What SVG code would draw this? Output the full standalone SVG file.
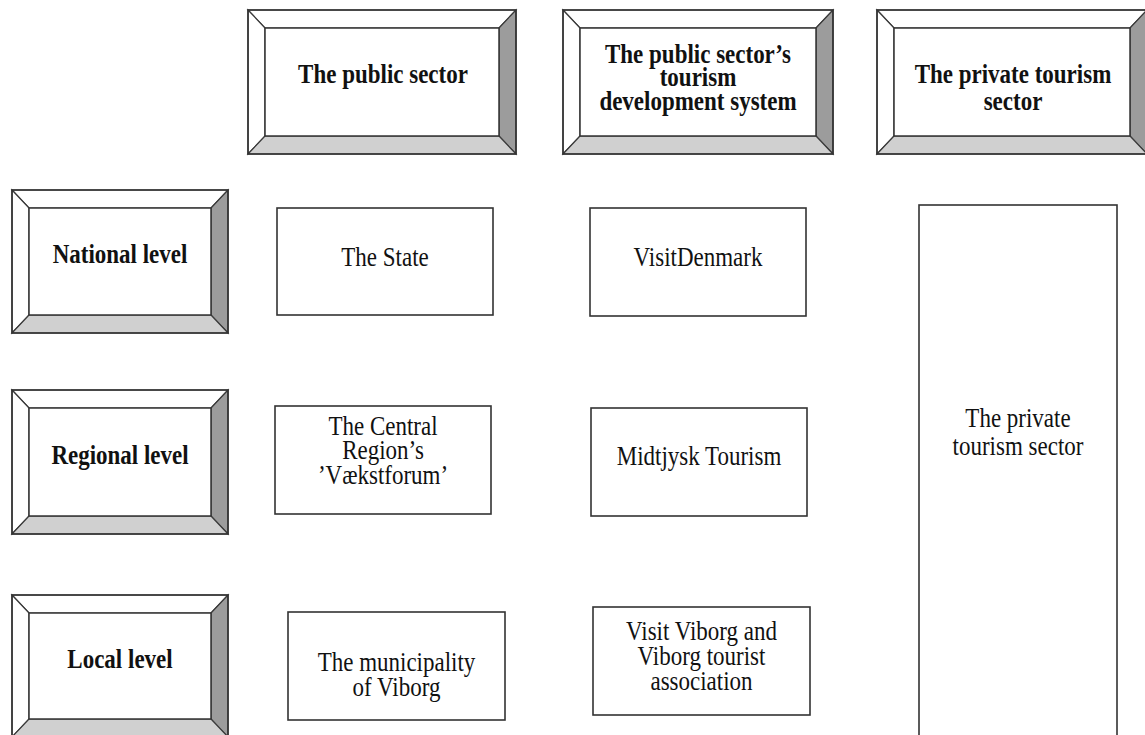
<svg xmlns="http://www.w3.org/2000/svg" width="1145" height="735" viewBox="0 0 1145 735">
<style>
.bg{fill:#ffffff}
.lt{fill:#ffffff;stroke:#3a3a3a;stroke-width:1.2}
.dk{fill:#9c9c9c;stroke:#3a3a3a;stroke-width:1.2}
.md{fill:#d0d0d0;stroke:#3a3a3a;stroke-width:1.2}
.in{fill:#ffffff;stroke:#333333;stroke-width:1.5}
.out{fill:none;stroke:#333333;stroke-width:1.6}
.box{fill:#ffffff;stroke:#333333;stroke-width:1.6}
.hb{font-family:"Liberation Serif","Times New Roman",serif;font-weight:bold;font-size:23px;fill:#111;text-anchor:middle}
.tx{font-family:"Liberation Serif","Times New Roman",serif;font-size:23px;fill:#111;text-anchor:middle}
</style>
<rect class="bg" x="0" y="0" width="1145" height="735"/>
<g id="connectors"/>

<g id="hdr-public">
<polygon class="lt" points="248,10 516,10 499,28 265,28"/>
<polygon class="lt" points="248,10 265,28 265,136 248,154"/>
<polygon class="dk" points="516,10 516,154 499,136 499,28"/>
<polygon class="md" points="248,154 265,136 499,136 516,154"/>
<rect class="in" x="265" y="28" width="234" height="108"/>
<rect class="out" x="248" y="10" width="268" height="144"/>
<text class="hb" transform="translate(383,83) scale(1,1.15)">The public sector</text>
</g>

<g id="hdr-system">
<polygon class="lt" points="563,10 833,10 816,28 580,28"/>
<polygon class="lt" points="563,10 580,28 580,136 563,154"/>
<polygon class="dk" points="833,10 833,154 816,136 816,28"/>
<polygon class="md" points="563,154 580,136 816,136 833,154"/>
<rect class="in" x="580" y="28" width="236" height="108"/>
<rect class="out" x="563" y="10" width="270" height="144"/>
<text class="hb" transform="translate(698,63) scale(1,1.15)"><tspan x="0" dy="0">The public sector’s</tspan><tspan x="0" dy="20.4">tourism</tspan><tspan x="0" dy="20.4">development system</tspan></text>
</g>

<g id="hdr-private">
<polygon class="lt" points="877,10 1147,10 1130,28 894,28"/>
<polygon class="lt" points="877,10 894,28 894,136 877,154"/>
<polygon class="dk" points="1147,10 1147,154 1130,136 1130,28"/>
<polygon class="md" points="877,154 894,136 1130,136 1147,154"/>
<rect class="in" x="894" y="28" width="236" height="108"/>
<rect class="out" x="877" y="10" width="270" height="144"/>
<text class="hb" transform="translate(1013,83) scale(1,1.15)"><tspan x="0" dy="0">The private tourism</tspan><tspan x="0" dy="23.5">sector</tspan></text>
</g>

<g id="lvl-national">
<polygon class="lt" points="12,190 228,190 211,208 29,208"/>
<polygon class="lt" points="12,190 29,208 29,315 12,333"/>
<polygon class="dk" points="228,190 228,333 211,315 211,208"/>
<polygon class="md" points="12,333 29,315 211,315 228,333"/>
<rect class="in" x="29" y="208" width="182" height="107"/>
<rect class="out" x="12" y="190" width="216" height="143"/>
<text class="hb" transform="translate(120,263) scale(1,1.15)">National level</text>
</g>

<g id="lvl-regional">
<polygon class="lt" points="12,390 228,390 211,408 29,408"/>
<polygon class="lt" points="12,390 29,408 29,516 12,534"/>
<polygon class="dk" points="228,390 228,534 211,516 211,408"/>
<polygon class="md" points="12,534 29,516 211,516 228,534"/>
<rect class="in" x="29" y="408" width="182" height="108"/>
<rect class="out" x="12" y="390" width="216" height="144"/>
<text class="hb" transform="translate(120,464) scale(1,1.15)">Regional level</text>
</g>

<g id="lvl-local">
<polygon class="lt" points="12,595 228,595 211,613 29,613"/>
<polygon class="lt" points="12,595 29,613 29,719 12,737"/>
<polygon class="dk" points="228,595 228,737 211,719 211,613"/>
<polygon class="md" points="12,737 29,719 211,719 228,737"/>
<rect class="in" x="29" y="613" width="182" height="106"/>
<rect class="out" x="12" y="595" width="216" height="142"/>
<text class="hb" transform="translate(120,668) scale(1,1.15)">Local level</text>
</g>

<g id="the-state">
<rect class="box" x="277" y="208" width="216" height="107"/>
<text class="tx" transform="translate(385,266) scale(1,1.15)">The State</text>
</g>

<g id="visitdenmark">
<rect class="box" x="590" y="208" width="216" height="108"/>
<text class="tx" transform="translate(698,266) scale(1,1.15)">VisitDenmark</text>
</g>

<g id="central-region">
<rect class="box" x="275" y="406" width="216" height="108"/>
<text class="tx" transform="translate(383,435) scale(1,1.15)"><tspan x="0" dy="0">The Central</tspan><tspan x="0" dy="21.3">Region’s</tspan><tspan x="0" dy="21.3">’Vækstforum’</tspan></text>
</g>

<g id="midtjysk">
<rect class="box" x="591" y="408" width="216" height="108"/>
<text class="tx" transform="translate(699,465) scale(1,1.15)">Midtjysk Tourism</text>
</g>

<g id="municipality">
<rect class="box" x="288" y="612" width="217" height="108"/>
<text class="tx" transform="translate(396.5,671) scale(1,1.15)"><tspan x="0" dy="0">The municipality</tspan><tspan x="0" dy="21.7">of Viborg</tspan></text>
</g>

<g id="visit-viborg">
<rect class="box" x="593" y="607" width="217" height="108"/>
<text class="tx" transform="translate(701.5,640) scale(1,1.15)"><tspan x="0" dy="0">Visit Viborg and</tspan><tspan x="0" dy="21.7">Viborg tourist</tspan><tspan x="0" dy="21.7">association</tspan></text>
</g>

<g id="private-sector">
<rect class="box" x="919" y="205" width="198" height="540"/>
<text class="tx" transform="translate(1018,427) scale(1,1.15)"><tspan x="0" dy="0">The private</tspan><tspan x="0" dy="24.3">tourism sector</tspan></text>
</g>
</svg>
